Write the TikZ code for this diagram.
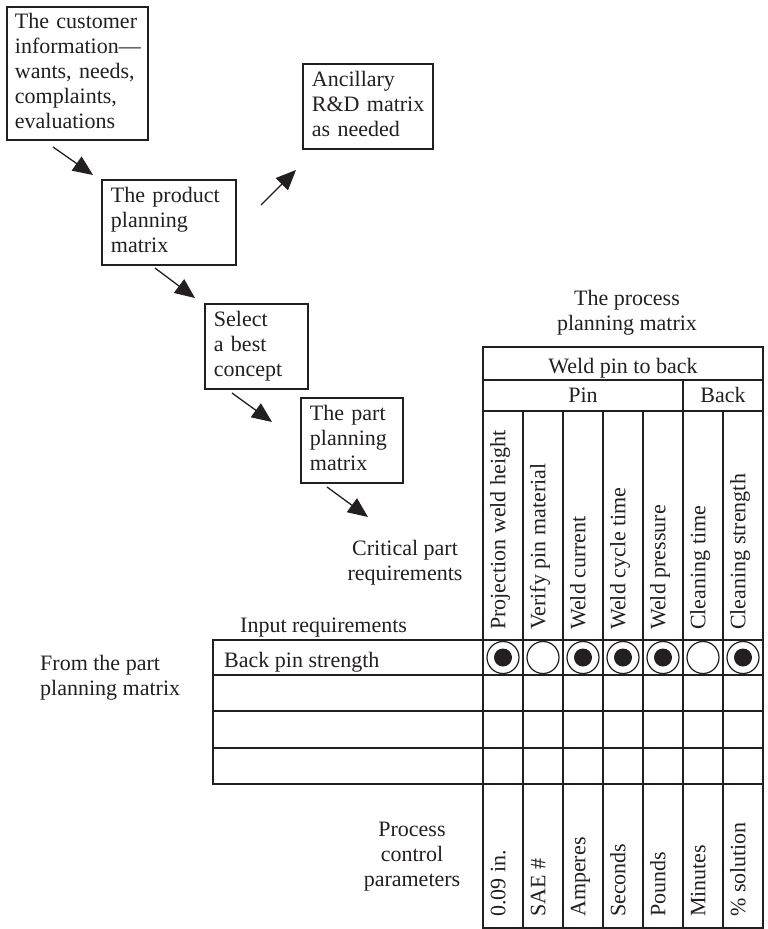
\documentclass[tikz,border=0pt]{standalone}
\usepackage{fontspec}
\setmainfont{Liberation Serif}
\usetikzlibrary{arrows.meta}
\definecolor{ink}{RGB}{35,31,32}
% lines of a stage box, kept unbroken and left aligned
\newcommand\stagelines[1]{\begin{tabular}{@{}l@{}}#1\end{tabular}}
\begin{document}
\begin{tikzpicture}[x=1pt,y=-1pt,
  every node/.style={font=\fontsize{22}{25}\selectfont, text=ink, inner sep=0pt},
  stagebox/.style={draw=ink, line width=1.8pt, anchor=north west, align=left,
    inner xsep=9pt, inner ysep=0pt, minimum height=85pt},
  flow/.style={draw=ink, line width=1.3pt, -{Triangle[length=20pt,width=17pt]}},
  colhead/.style={rotate=90, anchor=mid west},
  thinrule/.style={draw=ink, line width=1.1pt},
  thickrule/.style={draw=ink, line width=2.3pt},
  ring/.style={draw=ink, line width=1.2pt},
]
\useasboundingbox (0,0) rectangle (768,929);

% --- planning stages ---
\node[stagebox, text width=125pt, inner xsep=8pt, minimum height=133pt] (cust) at (6,6)
  {\stagelines{The customer\\information—\\wants, needs,\\complaints,\\evaluations}};
\node[stagebox, text width=116pt] (product) at (101,179)
  {\stagelines{The product\\planning\\matrix}};
\node[stagebox, text width=112pt] (anc) at (302,63)
  {\stagelines{Ancillary\\R\&D matrix\\as needed}};
\node[stagebox, text width=85pt] (select) at (204,303)
  {\stagelines{Select\\a best\\concept}};
\node[stagebox, text width=84pt] (part) at (300,397)
  {\stagelines{The part\\planning\\matrix}};

% --- flow arrows ---
\coordinate (a1s) at (53,147);  \coordinate (a1e) at (93,175);
\coordinate (a2s) at (261,205); \coordinate (a2e) at (296,170);
\coordinate (a3s) at (155,268); \coordinate (a3e) at (195,298);
\coordinate (a4s) at (232,393); \coordinate (a4e) at (272,422);
\coordinate (a5s) at (327,487); \coordinate (a5e) at (368,517);
\draw[flow] (a1s) -- (a1e);
\draw[flow] (a2s) -- (a2e);
\draw[flow] (a3s) -- (a3e);
\draw[flow] (a4s) -- (a4e);
\draw[flow] (a5s) -- (a5e);

% --- labels around the matrix ---
\node[anchor=north, align=center] (ttl) at (627,290) {The process\\planning matrix};
\node[anchor=north, align=center] (crit) at (405,540) {Critical part\\requirements};
\node[anchor=base west] (inreq) at (240,632) {Input requirements};
\node[anchor=north west, align=left] (from) at (40,655) {From the part\\planning matrix};
\node[anchor=north, align=center] (pcp) at (412,822) {Process\\control\\parameters};

% --- grid: thin rules ---
\draw[thinrule] (483,380) -- (763,380);
\draw[thinrule] (483,411) -- (763,411);
\draw[thinrule] (683,380) -- (683,928);
\foreach \x in {523,563,603,643,723} \draw[thinrule] (\x,411) -- (\x,928);
\foreach \y in {675,711,748} \draw[thinrule] (213,\y) -- (763,\y);

% --- grid: heavy rules ---
\draw[thickrule] (483,347) rectangle (763,928);
\draw[thickrule] (213,640) rectangle (483,784);
\draw[thickrule] (483,640) -- (763,640);
\draw[thickrule] (483,784) -- (763,784);

% --- header cells ---
\node[anchor=base] (weld) at (623,373) {Weld pin to back};
\node[anchor=base] (pin) at (583,402) {Pin};
\node[anchor=base] (back) at (723,402) {Back};

\foreach \x/\t [count=\i] in {503/Projection weld height, 543/Verify pin material,
    583/Weld current, 623/Weld cycle time, 663/Weld pressure,
    703/Cleaning time, 743/Cleaning strength}
  \node[colhead] (h\i) at (\x,630) {\t};

% --- input row ---
\node[anchor=base west] (bps) at (224,667) {Back pin strength};
\foreach \x/\f in {503/1,543/0,583/1,623/1,663/1,703/0,743/1} {
  \draw[ring] (\x,657.5) circle[radius=16pt];
  \ifnum\f=1 \fill[ink] (\x,657.5) circle[radius=9pt]; \fi
}

% --- process control parameters ---
\foreach \x/\t [count=\i] in {503/0.09 in., 543/SAE \#, 583/Amperes,
    623/Seconds, 663/Pounds, 703/Minutes, 743/\% solution}
  \node[colhead] (u\i) at (\x,917) {\t};
\end{tikzpicture}
\end{document}
